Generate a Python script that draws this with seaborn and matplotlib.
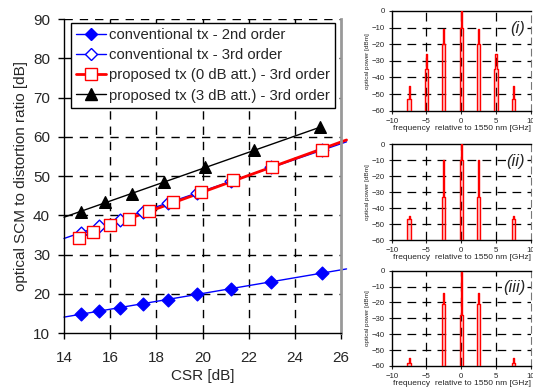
import numpy as np
import matplotlib
matplotlib.use("Agg")
import matplotlib.pyplot as plt
import seaborn as sns
from matplotlib.lines import Line2D

# ---- main plot data ----
csr_conv = [14.72, 15.53, 16.44, 17.43, 18.52, 19.77, 21.24, 22.97, 25.17]
conv_2nd = [14.8, 15.7, 16.5, 17.3, 18.5, 20.0, 21.3, 23.0, 25.3]
conv_3rd = [35.6, 37.2, 38.9, 40.9, 43.2, 45.7, 48.7, 52.2, 56.5]

csr_prop0 = [14.64, 15.27, 16.0, 16.8, 17.69, 18.73, 19.94, 21.33, 23.03, 25.17]
prop0_3rd = [34.2, 35.8, 37.4, 39.1, 41.0, 43.4, 45.9, 48.9, 52.4, 56.6]

csr_prop3 = [14.72, 15.79, 16.94, 18.34, 20.09, 22.23, 25.11]
prop3_3rd = [40.9, 43.3, 45.5, 48.4, 52.3, 56.5, 62.4]

labels = ["conventional tx - 2nd order", "conventional tx - 3rd order",
          "proposed tx (0 dB att.) - 3rd order", "proposed tx (3 dB att.) - 3rd order"]

# ---- optical spectra (inset panels) ----
freq_i = [-7.5, -5, -2.5, 0, 2.5, 5, 7.5]
peak_i = [-45, -26, -11, 0, -11, -26, -45]
shoulder_i = [-53, -35, -20, -10, -20, -35, -53]

freq_ii = [-7.5, -2.5, 0, 2.5, 7.5]
peak_ii = [-45, -10, 0, -10, -45]
shoulder_ii = [-47, -33, -10, -33, -47]

freq_iii = [-7.5, -2.5, 0, 2.5, 7.5]
peak_iii = [-55, -14, -1, -14, -55]
shoulder_iii = [-58, -21, -28, -21, -58]

sns.set_style("white")
plt.rcParams["font.family"] = ["Liberation Sans", "DejaVu Sans"]

fig = plt.figure(figsize=(5.33, 3.87), dpi=100)
ax = fig.add_axes([0.1201, 0.1395, 0.5197, 0.8114])

BLUE, RED = "#0000ff", "#ff0000"


def trend(x, y, x0, x1, **kw):
    k, b = np.polyfit(x, y, 1)
    xs = np.array([x0, x1])
    ax.plot(xs, k * xs + b, clip_on=False, zorder=2, **kw)


trend(csr_conv, conv_2nd, 14, 26.24, color=BLUE, lw=1)
trend(csr_conv, conv_3rd, 14, 26.24, color=BLUE, lw=1)
trend(csr_prop0, prop0_3rd, csr_prop0[0], 26.24, color=RED, lw=2)
trend(csr_prop3, prop3_3rd, 14, csr_prop3[-1], color="black", lw=1)

sns.scatterplot(x=csr_conv, y=conv_2nd, marker="D", s=42, color=BLUE,
                edgecolor=BLUE, linewidth=1, ax=ax, zorder=3)
sns.scatterplot(x=csr_conv, y=conv_3rd, marker="D", s=42, facecolor="white",
                edgecolor=BLUE, linewidth=1, ax=ax, zorder=3)
sns.scatterplot(x=csr_prop0, y=prop0_3rd, marker="s", s=70, facecolor="white",
                edgecolor=RED, linewidth=1, ax=ax, zorder=4)
sns.scatterplot(x=csr_prop3, y=prop3_3rd, marker="^", s=70, color="black",
                edgecolor="black", linewidth=1, ax=ax, zorder=4)

ax.set_xlim(14, 26)
ax.set_ylim(10, 90)
ax.set_xticks(range(14, 27, 2))
ax.set_yticks(range(10, 91, 10))
for xv in range(16, 26, 2):
    ax.axvline(xv, color="black", lw=1, ls=(0, (6, 5)), zorder=1)
for yv in range(20, 91, 10):
    ax.axhline(yv, color="black", lw=1, ls=(0, (6, 5)), zorder=1)
for side in ["left", "bottom"]:
    ax.spines[side].set_color("black")
    ax.spines[side].set_linewidth(1)
ax.spines["top"].set_visible(False)
ax.spines["right"].set_color("#999999")
ax.spines["right"].set_linewidth(2)
ax.tick_params(direction="out", length=4, width=1, color="black",
               labelsize=11, left=True, bottom=True)
ax.tick_params(axis="x", pad=9)
ax.tick_params(axis="y", pad=6)
ax.set_xlabel("CSR [dB]", fontsize=11, labelpad=3)
ax.set_ylabel("optical SCM to distortion ratio [dB]", fontsize=11, labelpad=4)

handles = [
    Line2D([], [], color=BLUE, lw=1, marker="D", ms=6.5, mfc=BLUE, mec=BLUE),
    Line2D([], [], color=BLUE, lw=1, marker="D", ms=6.5, mfc="white", mec=BLUE),
    Line2D([], [], color=RED, lw=2, marker="s", ms=8, mfc="white", mec=RED),
    Line2D([], [], color="black", lw=1, marker="^", ms=8, mfc="black", mec="black"),
]
leg = ax.legend(handles, labels, loc="upper left", bbox_to_anchor=(0.024, 0.988),
                borderaxespad=0, fontsize=10.7, handlelength=2.0, handletextpad=0.2,
                labelspacing=0.42, borderpad=0.35, fancybox=False, framealpha=1,
                edgecolor="black")
leg.get_frame().set_linewidth(1)
leg.set_zorder(6)

# ---- inset spectra ----
panels = [
    ([0.7349, 0.7140, 0.2608, 0.2576], freq_i, peak_i, shoulder_i, "(i)"),
    ([0.7349, 0.3798, 0.2608, 0.2481], freq_ii, peak_ii, shoulder_ii, "(ii)"),
    ([0.7349, 0.0543, 0.2608, 0.2462], freq_iii, peak_iii, shoulder_iii, "(iii)"),
]
for rect, freqs, peaks, shoulders, tag in panels:
    sa = fig.add_axes(rect)
    for f, pk, sh in zip(freqs, peaks, shoulders):
        xs = f + np.array([-0.24, -0.24, -0.08, -0.08, 0.08, 0.08, 0.24, 0.24])
        ys = [-60, sh, sh, pk, pk, sh, sh, -60]
        sa.fill(xs, ys, color=RED, alpha=0.2, lw=0, zorder=2)
        sa.plot(xs, ys, color=RED, lw=1, zorder=3)
    sa.set_xlim(-10, 10)
    sa.set_ylim(-60, 0)
    sa.set_xticks([-10, -5, 0, 5, 10])
    sa.set_yticks(range(-60, 1, 10))
    for yv in range(-50, 0, 10):
        sa.axhline(yv, color="black", lw=0.9, ls=(0, (7, 5)), zorder=1)
    for xv in [-5, 0, 5]:
        sa.axvline(xv, color="black", lw=0.9, ls=(0, (7, 5)), zorder=1)
    for side in ["left", "bottom", "top"]:
        sa.spines[side].set_color("black")
        sa.spines[side].set_linewidth(1)
    sa.spines["right"].set_color("#777777")
    sa.spines["right"].set_linestyle((0, (6, 4)))
    sa.tick_params(direction="out", length=2, width=0.8, labelsize=5.6, pad=3,
                   left=True, bottom=True)
    sa.set_xlabel("frequency  relative to 1550 nm [GHz]", fontsize=6.0,
                  labelpad=0, loc="right")
    sa.set_ylabel("optical power [dBm]", fontsize=4.6, labelpad=1)
    sa.text(0.96, 0.9, tag, transform=sa.transAxes, ha="right", va="top",
            fontsize=12, style="italic", zorder=5,
            bbox=dict(facecolor="white", edgecolor="none", pad=0.5))

fig.savefig("out.png", dpi=100, facecolor="white")
